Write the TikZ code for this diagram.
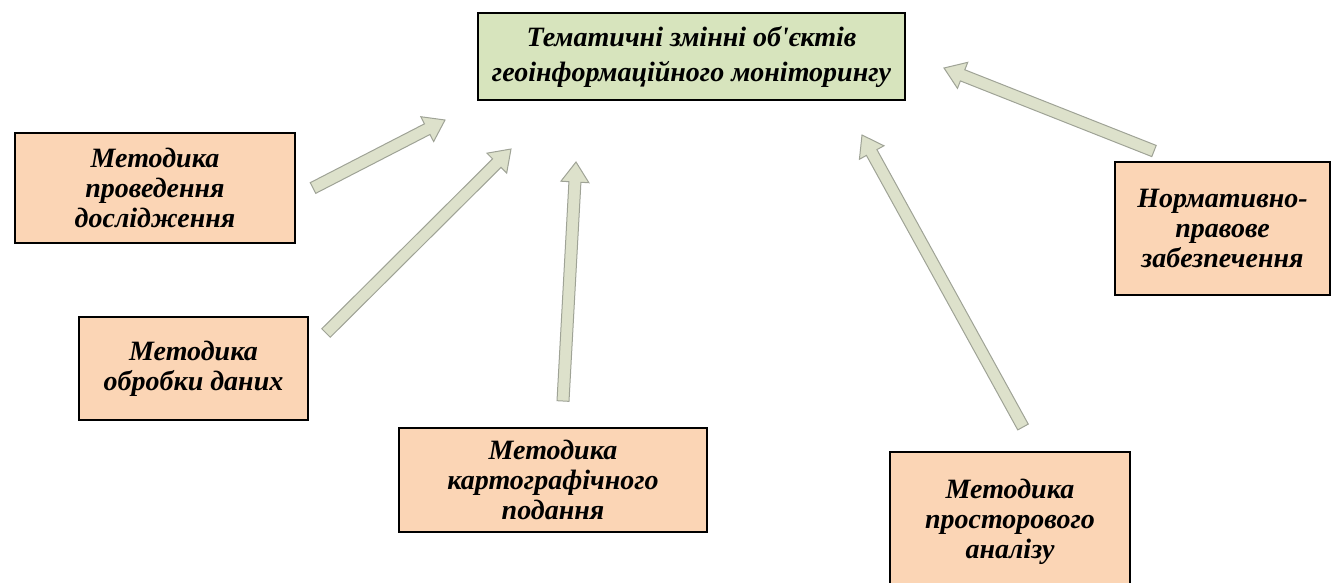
\documentclass[tikz,border=0pt]{standalone}
\usepackage{fontspec}
\setmainfont{Liberation Serif}[Ligatures=TeXOff]
\usetikzlibrary{calc}
\definecolor{peach}{HTML}{FBD5B5}
\definecolor{olivebox}{HTML}{D7E4BD}
\definecolor{arrfill}{HTML}{DDE1CB}
\definecolor{arrline}{HTML}{9FA396}
\tikzset{
  box/.style={draw=black, line width=2.5pt, rectangle, align=center, inner sep=2pt,
    font=\fontsize{28}{30}\selectfont\bfseries\itshape},
  pbox/.style={box, fill=peach},
  tbox/.style={box, fill=olivebox, font=\fontsize{28}{35}\selectfont\bfseries\itshape},
  arrowbody/.style={fill=arrfill, draw=arrline, line width=1pt, line join=miter}
}
\newcommand{\blockarrow}[3]{%
  \coordinate (#1h) at ($(#3)!20pt!(#2)$);
  \draw[arrowbody] ($(#2)!6pt!90:(#3)$) -- ($(#1h)!6pt!90:(#3)$) -- ($(#1h)!14pt!90:(#3)$)
    -- (#3) -- ($(#1h)!14pt!-90:(#3)$) -- ($(#1h)!6pt!-90:(#3)$) -- ($(#2)!6pt!-90:(#3)$) -- cycle;
}
\begin{document}
\begin{tikzpicture}[x=1pt, y=-1pt]
\useasboundingbox (0,0) rectangle (1332,582);
\clip (0,0) rectangle (1332,582);
\node[tbox, minimum width=427pt, minimum height=87pt] (top) at (691.5,56.5)
  {Тематичні змінні об'єктів\\геоінформаційного моніторингу};
\node[pbox, minimum width=280pt, minimum height=110pt] (m1) at (155,188)
  {Методика\\проведення\\дослідження};
\node[pbox, minimum width=229pt, minimum height=103pt] (m2) at (193.5,368.5)
  {Методика\\обробки даних};
\node[pbox, minimum width=308pt, minimum height=104pt] (m3) at (553,480)
  {Методика\\картографічного\\подання};
\node[pbox, minimum width=240pt, minimum height=140pt] (m4) at (1010,522)
  {Методика\\просторового\\аналізу};
\node[pbox, minimum width=215pt, minimum height=133pt] (m5) at (1222.5,228.5)
  {Нормативно-\\правове\\забезпечення};
\coordinate (t1) at (313,188); \coordinate (p1) at (445,120);
\coordinate (t2) at (326,333); \coordinate (p2) at (511,149);
\coordinate (t3) at (563,401); \coordinate (p3) at (576,162);
\coordinate (t4) at (1023,427); \coordinate (p4) at (862,135);
\coordinate (t5) at (1154,151); \coordinate (p5) at (944,68);
\blockarrow{a1}{t1}{p1}
\blockarrow{a2}{t2}{p2}
\blockarrow{a3}{t3}{p3}
\blockarrow{a4}{t4}{p4}
\blockarrow{a5}{t5}{p5}
\end{tikzpicture}
\end{document}
